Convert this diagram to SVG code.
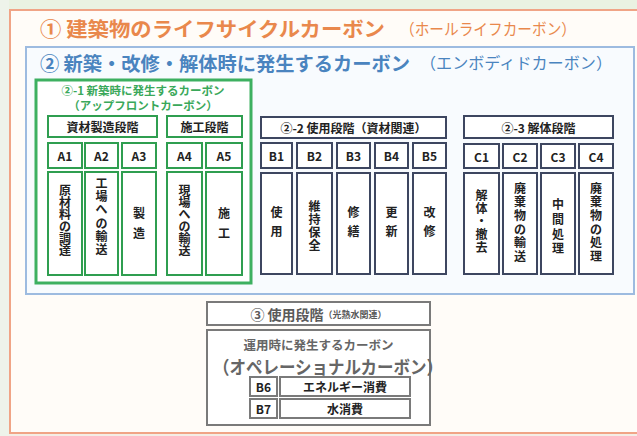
<svg xmlns="http://www.w3.org/2000/svg" width="637" height="436" viewBox="0 0 637 436">
<defs>
<style>
text { font-family: "Noto Sans CJK JP", "Noto Sans", sans-serif; }
.green { fill:#ffffff; stroke:#2f9e50; stroke-width:2; }
.navy { fill:#ffffff; stroke:#3d4660; stroke-width:2; }
.gray { fill:#ffffff; stroke:#7a7a7a; stroke-width:2; }
.lbl { font-size:12px; font-weight:700; fill:#222222; text-anchor:middle; dominant-baseline:central; }
.vt { font-size:12px; font-weight:700; fill:#222222; text-anchor:middle; dominant-baseline:central; }
.gt { font-size:11.5px; font-weight:700; fill:#3aa85a; text-anchor:middle; dominant-baseline:central; }
</style>
</defs>
<rect x="0" y="0" width="637" height="436" fill="#f4eee6"/>
<rect x="0" y="0" width="637" height="10" fill="#eaf2e2"/>
<rect x="0" y="0" width="9" height="436" fill="#eef3ea"/>

<g id="whole-life">
<rect x="10" y="10" width="640" height="423" fill="#fffcf8" stroke="#f0a486" stroke-width="2"/>
<text x="40" y="28" font-size="20" font-weight="700" fill="#e9884c" dominant-baseline="central" textLength="345" lengthAdjust="spacingAndGlyphs">① 建築物のライフサイクルカーボン</text>
<text x="400" y="28" font-size="16" font-weight="400" fill="#e9884c" dominant-baseline="central" textLength="176" lengthAdjust="spacingAndGlyphs">（ホールライフカーボン）</text>
</g>

<g id="embodied">
<rect x="26" y="47" width="608" height="247" fill="#f8fbfe" stroke="#9dbbe0" stroke-width="2"/>
<text x="40" y="62" font-size="19" font-weight="700" fill="#4a84bf" dominant-baseline="central" textLength="370" lengthAdjust="spacingAndGlyphs">② 新築・改修・解体時に発生するカーボン</text>
<text x="420" y="62" font-size="16" font-weight="400" fill="#4a84bf" dominant-baseline="central" textLength="192" lengthAdjust="spacingAndGlyphs">（エンボディドカーボン）</text>
</g>

<g id="upfront">
<rect x="36" y="80" width="215" height="203" fill="#ffffff" stroke="#3db060" stroke-width="3"/>
<text class="gt" x="143" y="90">②-1 新築時に発生するカーボン</text>
<text class="gt" x="143" y="105">（アップフロントカーボン）</text>
</g>

<g id="stage-material">
<rect class="green" x="48" y="116" width="109" height="21"/>
<text class="lbl" x="102.5" y="126.5">資材製造段階</text>
</g>
<g id="stage-construction">
<rect class="green" x="167" y="116" width="75" height="21"/>
<text class="lbl" x="204.5" y="126.5">施工段階</text>
</g>

<g id="A1">
<rect class="green" x="48" y="143" width="34" height="25"/>
<text class="lbl" x="65" y="155.5">A1</text>
<rect class="green" x="48" y="172" width="34" height="103"/>
<text class="vt"><tspan x="65" y="189">原</tspan><tspan x="65" y="201">材</tspan><tspan x="65" y="213">料</tspan><tspan x="65" y="225">の</tspan><tspan x="65" y="237">調</tspan><tspan x="65" y="249">達</tspan></text>
</g>
<g id="A2">
<rect class="green" x="85" y="143" width="33" height="25"/>
<text class="lbl" x="101.5" y="155.5">A2</text>
<rect class="green" x="85" y="172" width="33" height="103"/>
<text class="vt"><tspan x="101.5" y="182">工</tspan><tspan x="101.5" y="195">場</tspan><tspan x="101.5" y="208">へ</tspan><tspan x="101.5" y="222">の</tspan><tspan x="101.5" y="235">輸</tspan><tspan x="101.5" y="248">送</tspan></text>
</g>
<g id="A3">
<rect class="green" x="122" y="143" width="34" height="25"/>
<text class="lbl" x="139" y="155.5">A3</text>
<rect class="green" x="122" y="172" width="34" height="103"/>
<text class="vt"><tspan x="139" y="212">製</tspan><tspan x="139" y="232">造</tspan></text>
</g>
<g id="A4">
<rect class="green" x="167" y="143" width="35" height="25"/>
<text class="lbl" x="184.5" y="155.5">A4</text>
<rect class="green" x="167" y="172" width="35" height="103"/>
<text class="vt"><tspan x="184.5" y="189">現</tspan><tspan x="184.5" y="201">場</tspan><tspan x="184.5" y="213">へ</tspan><tspan x="184.5" y="225">の</tspan><tspan x="184.5" y="237">輸</tspan><tspan x="184.5" y="249">送</tspan></text>
</g>
<g id="A5">
<rect class="green" x="206" y="143" width="36" height="25"/>
<text class="lbl" x="224" y="155.5">A5</text>
<rect class="green" x="206" y="172" width="36" height="103"/>
<text class="vt"><tspan x="224" y="212">施</tspan><tspan x="224" y="232">工</tspan></text>
</g>

<g id="stage-use">
<rect class="navy" x="261" y="117" width="185" height="21"/>
<text class="lbl" x="353.5" y="127.5">②-2 使用段階（資材関連）</text>
</g>
<g id="B1">
<rect class="navy" x="261" y="143" width="31" height="25"/>
<text class="lbl" x="276.5" y="155.5">B1</text>
<rect class="navy" x="261" y="173" width="31" height="101"/>
<text class="vt"><tspan x="276.5" y="211">使</tspan><tspan x="276.5" y="230">用</tspan></text>
</g>
<g id="B2">
<rect class="navy" x="297" y="143" width="35" height="25"/>
<text class="lbl" x="314.5" y="155.5">B2</text>
<rect class="navy" x="297" y="173" width="35" height="101"/>
<text class="vt"><tspan x="314.5" y="205">維</tspan><tspan x="314.5" y="218">持</tspan><tspan x="314.5" y="231">保</tspan><tspan x="314.5" y="244">全</tspan></text>
</g>
<g id="B3">
<rect class="navy" x="337" y="143" width="33" height="25"/>
<text class="lbl" x="353.5" y="155.5">B3</text>
<rect class="navy" x="337" y="173" width="33" height="101"/>
<text class="vt"><tspan x="353.5" y="211">修</tspan><tspan x="353.5" y="230">繕</tspan></text>
</g>
<g id="B4">
<rect class="navy" x="375" y="143" width="33" height="25"/>
<text class="lbl" x="391.5" y="155.5">B4</text>
<rect class="navy" x="375" y="173" width="33" height="101"/>
<text class="vt"><tspan x="391.5" y="211">更</tspan><tspan x="391.5" y="230">新</tspan></text>
</g>
<g id="B5">
<rect class="navy" x="413" y="143" width="33" height="25"/>
<text class="lbl" x="429.5" y="155.5">B5</text>
<rect class="navy" x="413" y="173" width="33" height="101"/>
<text class="vt"><tspan x="429.5" y="211">改</tspan><tspan x="429.5" y="230">修</tspan></text>
</g>

<g id="stage-demolition">
<rect class="navy" x="464" y="116" width="149" height="22"/>
<text class="lbl" x="538.5" y="127">②-3 解体段階</text>
</g>
<g id="C1">
<rect class="navy" x="464" y="144" width="35" height="24"/>
<text class="lbl" x="481.5" y="156">C1</text>
<rect class="navy" x="464" y="173" width="35" height="101"/>
<text class="vt"><tspan x="481.5" y="194">解</tspan><tspan x="481.5" y="207">体</tspan><tspan x="481.5" y="220">・</tspan><tspan x="481.5" y="233">撤</tspan><tspan x="481.5" y="246">去</tspan></text>
</g>
<g id="C2">
<rect class="navy" x="503" y="144" width="34" height="24"/>
<text class="lbl" x="520" y="156">C2</text>
<rect class="navy" x="503" y="173" width="34" height="101"/>
<text class="vt"><tspan x="520" y="187">廃</tspan><tspan x="520" y="200">棄</tspan><tspan x="520" y="214">物</tspan><tspan x="520" y="228">の</tspan><tspan x="520" y="241">輸</tspan><tspan x="520" y="255">送</tspan></text>
</g>
<g id="C3">
<rect class="navy" x="541" y="144" width="34" height="24"/>
<text class="lbl" x="558" y="156">C3</text>
<rect class="navy" x="541" y="173" width="34" height="101"/>
<text class="vt"><tspan x="558" y="203">中</tspan><tspan x="558" y="218">間</tspan><tspan x="558" y="233">処</tspan><tspan x="558" y="247">理</tspan></text>
</g>
<g id="C4">
<rect class="navy" x="579" y="144" width="34" height="24"/>
<text class="lbl" x="596" y="156">C4</text>
<rect class="navy" x="579" y="173" width="34" height="101"/>
<text class="vt"><tspan x="596" y="187">廃</tspan><tspan x="596" y="200">棄</tspan><tspan x="596" y="214">物</tspan><tspan x="596" y="228">の</tspan><tspan x="596" y="241">処</tspan><tspan x="596" y="255">理</tspan></text>
</g>

<g id="operational-header">
<rect class="gray" x="207" y="302" width="223" height="23"/>
<text x="318.5" y="313.5" text-anchor="middle" dominant-baseline="central" fill="#5a5a5a" font-weight="700"><tspan font-size="14">③ 使用段階</tspan><tspan font-size="9">（光熱水関連）</tspan></text>
</g>
<g id="operational">
<rect class="gray" x="207" y="330" width="223" height="95"/>
<text x="318.5" y="344" text-anchor="middle" dominant-baseline="central" fill="#666666" font-size="12.5" font-weight="700">運用時に発生するカーボン</text>
<text x="328" y="366" text-anchor="middle" dominant-baseline="central" fill="#666666" font-size="18" font-weight="700" textLength="230" lengthAdjust="spacingAndGlyphs">（オペレーショナルカーボン）</text>
</g>
<g id="B6">
<rect class="gray" x="250" y="377" width="27" height="19"/>
<text class="lbl" x="263.5" y="386.5" font-size="11">B6</text>
<rect class="gray" x="280" y="377" width="130" height="19"/>
<text class="lbl" x="345" y="386.5">エネルギー消費</text>
</g>
<g id="B7">
<rect class="gray" x="250" y="399" width="27" height="19"/>
<text class="lbl" x="263.5" y="408.5" font-size="11">B7</text>
<rect class="gray" x="280" y="399" width="130" height="19"/>
<text class="lbl" x="345" y="408.5">水消費</text>
</g>
<g id="connectors"></g>
</svg>
